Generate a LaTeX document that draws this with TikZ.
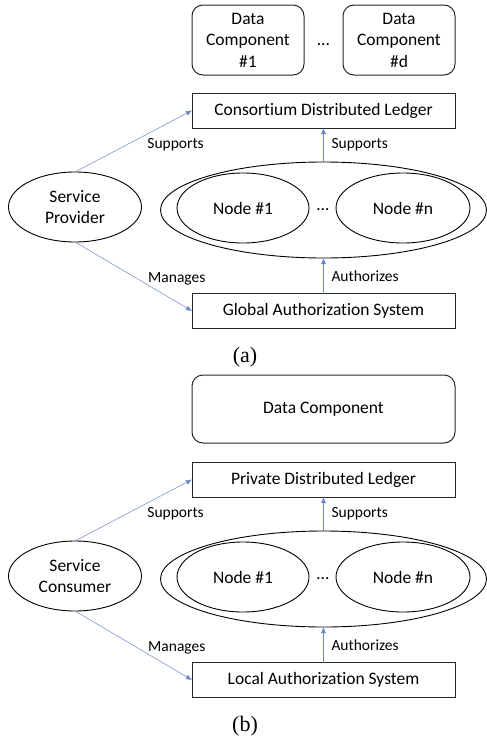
\documentclass[tikz,border=0pt]{standalone}
\usepackage{fontspec}
\setmainfont{Carlito}[Ligatures={NoCommon}]
\newfontfamily\capfont{Liberation Serif}
\usetikzlibrary{shapes.geometric,arrows.meta}
\definecolor{linkblue}{RGB}{105,135,200}

\begin{document}
\begin{tikzpicture}[x=1pt, y=-1pt,
	every node/.style={inner sep=1pt, outer sep=0, font=\fontsize{17.5}{21.5}\selectfont},
	box/.style={draw=black!85, line width=1pt, minimum width=263pt, minimum height=35pt},
	dbox/.style={draw=black!85, line width=1pt, rounded corners=11pt, align=center},
	oval/.style={draw, ellipse, line width=0.9pt, align=center, inner sep=0pt},
	link/.style={draw=linkblue, line width=0.5pt, -{Latex[length=6pt,width=5pt]}},
	lbl/.style={font=\fontsize{15.5}{18}\selectfont}]
	\useasboundingbox (0,0) rectangle (487,742);

	% data components of the consortium
	\node[dbox, minimum width=112pt, minimum height=70pt] (comp1) at (248,40) {Data\\Component\\\#1};
	\node[dbox, minimum width=112pt, minimum height=70pt] (compd) at (399,40) {Data\\Component\\\#d};
	\node (compdots) at (323.5,45) {\dots};

	% data component of the consumer
	\node[dbox, minimum width=263pt, minimum height=68pt] (comp) at (323.5,409) {Data Component};

	\foreach \pn/\dy/\who/\led/\auth in {a/0/Provider/Consortium/Global, b/369/Consumer/Private/Local}{
		\node[box] (ledger\pn) at (323.5,110.5+\dy) {\led\ Distributed Ledger};
		\node[oval, minimum width=326pt, minimum height=96pt] (ring\pn) at (323.5,210+\dy) {};
		\node[oval, minimum width=132pt, minimum height=70pt] (first\pn) at (243,208+\dy) {Node \#1};
		\node[oval, minimum width=134pt, minimum height=70pt] (last\pn) at (403,208+\dy) {Node \#n};
		\node (dots\pn) at (323,210+\dy) {\dots};
		\node[box] (auth\pn) at (323.5,311+\dy) {\auth\ Authorization System};
		\node[oval, minimum width=133pt, minimum height=70pt] (user\pn) at (75,207+\dy) {Service\\\who};

		\draw[link] (ring\pn.north) -- node[lbl, right=7pt]{Supports} (ledger\pn.south);
		\draw[link] (auth\pn.north) -- node[lbl, right=7pt]{Authorizes} (ring\pn.south);
		\draw[link] (user\pn.north) -- node[lbl, pos=0.86, below=18pt]{Supports} (ledger\pn.west);
		\draw[link] (user\pn.south) -- node[lbl, pos=0.87, above=16pt]{Manages} (auth\pn.west);

		\node[font=\capfont\fontsize{22}{24}\selectfont] (cap\pn) at (245,357+\dy) {(\pn)};
	}
\end{tikzpicture}
\end{document}
